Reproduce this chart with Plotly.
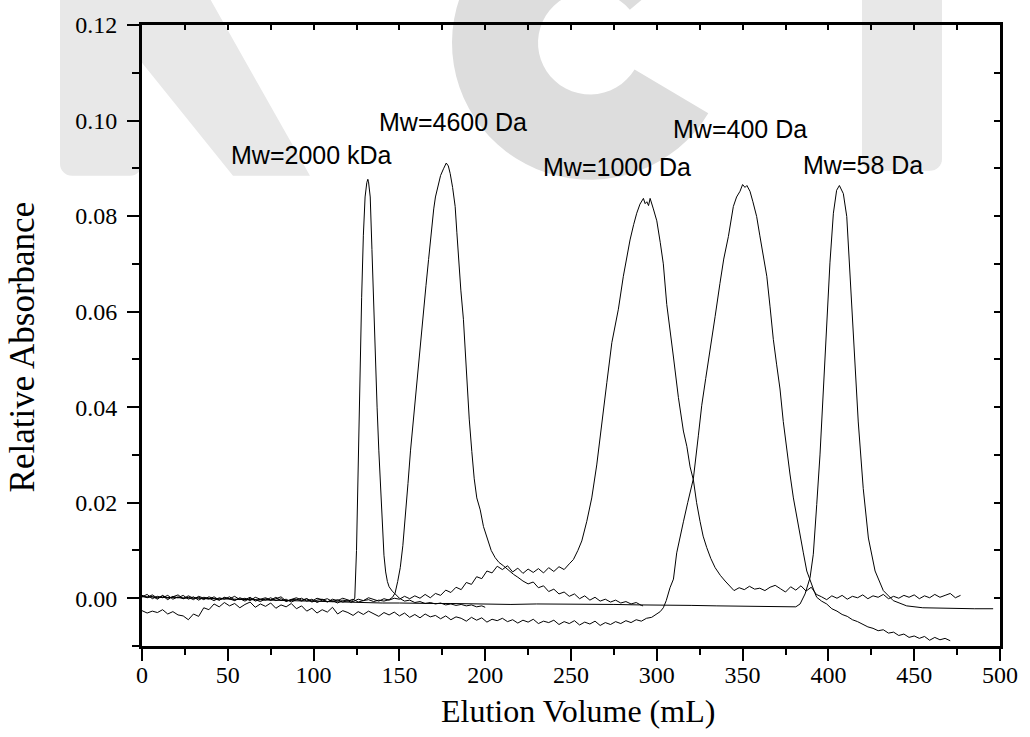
import math
import plotly.graph_objects as go

# ---------------------------------------------------------------------------
# Gel-permeation elution profiles (elution volume in mL, relative absorbance)
# ---------------------------------------------------------------------------

# Mw = 2000 kDa
vol_2000k = [0, 3, 6, 9, 12, 15, 18, 21, 24, 27, 30, 33, 36, 39, 42, 45, 48, 51, 54, 57,
             60, 63, 66, 69, 72, 75, 78, 81, 84, 87, 90, 93, 96, 99, 102, 105, 108, 111, 114, 117, 120,
             122, 123, 124, 125, 126, 127, 128, 129, 130, 131, 131.6, 132, 133, 134, 135, 136, 137, 138,
             139, 140, 141, 142, 143, 144, 145, 146, 147, 148, 150,
             153, 156, 159, 162, 165, 168, 171, 174, 177, 180, 183, 186, 189, 192, 195, 198, 200]
abs_2000k = [0.0006, 0.0002, 0.0007, 0.0000, 0.0005, -0.0003, 0.0004, 0.0001, 0.0006, -0.0002,
             0.0003, -0.0004, 0.0002, 0.0000, -0.0005, 0.0001, -0.0002, 0.0003, -0.0004, -0.0001,
             -0.0006, 0.0000, -0.0003, -0.0007, -0.0001, -0.0004, 0.0002, -0.0005, -0.0002, -0.0008,
             -0.0003, 0.0000, -0.0006, -0.0002, -0.0009, -0.0004, -0.0001, -0.0007, -0.0003, -0.0008, -0.0005,
             -0.0009, -0.0004, 0.0000, 0.0100, 0.0280, 0.0480, 0.0630, 0.0760, 0.0840, 0.0870, 0.0877,
             0.0872, 0.0840, 0.0730, 0.0610, 0.0500, 0.0400, 0.0310, 0.0225, 0.0150, 0.0090, 0.0055,
             0.0035, 0.0024, 0.0018, 0.0014, 0.0011, 0.0008, 0.0000,
             -0.0006, -0.0004, -0.0009, -0.0007, -0.0011, -0.0009, -0.0012, -0.0010, -0.0014, -0.0012,
             -0.0015, -0.0013, -0.0016, -0.0014, -0.0018, -0.0016, -0.0019]

# Mw = 4600 Da
vol_4600 = [0, 3, 6, 9, 12, 15, 18, 21, 24, 27, 30, 33, 36, 39, 42, 45, 48, 51, 54, 57,
            60, 63, 66, 69, 72, 75, 78, 81, 84, 87, 90, 93, 96, 99, 102, 105, 108, 111, 114, 117,
            120, 123, 126, 129, 132, 135, 138, 141, 144,
            146, 147.5, 149, 150.5, 152, 153.5, 155, 156.5, 158, 159.5, 161, 162.5, 164, 165.5, 167,
            168.5, 170, 171, 172.8, 174, 175.7, 177.3, 178.5, 179.6, 181, 182.5, 183.5, 184.4, 185.8,
            187.3, 188.3, 189.3, 190.7, 192.2, 193.6, 195.1, 197.1, 199, 201, 203.5, 205.8, 208,
            210.6, 213, 216.5, 219, 222,
            225, 228, 231, 234, 237, 240, 243, 246, 249, 252, 255, 258, 261, 264, 267, 270, 273,
            276, 279, 282, 285, 288, 291, 292]
abs_4600 = [0.0003, 0.0008, -0.0001, 0.0004, 0.0001, 0.0006, -0.0002, 0.0003, -0.0001, 0.0005,
            0.0000, 0.0002, -0.0003, 0.0003, -0.0001, -0.0004, 0.0002, -0.0002, -0.0005, 0.0001,
            -0.0003, 0.0002, -0.0006, -0.0002, -0.0004, 0.0001, -0.0005, -0.0001, -0.0007, -0.0003,
            -0.0002, -0.0006, -0.0001, -0.0008, -0.0004, -0.0002, -0.0007, -0.0005, -0.0010, -0.0004,
            -0.0006, -0.0002, -0.0008, -0.0005, -0.0003, -0.0007, -0.0004, -0.0006, -0.0003,
            0.0002, 0.0011, 0.0035, 0.0064, 0.0110, 0.0168, 0.0240, 0.0310, 0.0370, 0.0420, 0.0478,
            0.0540, 0.0598, 0.0655, 0.0709, 0.0770, 0.0815, 0.0840, 0.0868, 0.0885, 0.0899, 0.0911,
            0.0905, 0.0889, 0.0860, 0.0820, 0.0765, 0.0709, 0.0645, 0.0584, 0.0515, 0.0445, 0.0375,
            0.0307, 0.0250, 0.0210, 0.0185, 0.0150, 0.0126, 0.0100, 0.0085, 0.0075, 0.0068, 0.0060,
            0.0050, 0.0044, 0.0036,
            0.0030, 0.0034, 0.0022, 0.0026, 0.0014, 0.0019, 0.0009, 0.0013, 0.0004, 0.0009, -0.0001,
            0.0005, -0.0004, 0.0002, -0.0006, -0.0002, -0.0008, -0.0004, -0.0010, -0.0007, -0.0012,
            -0.0009, -0.0015, -0.0016]

# Mw = 1000 Da
vol_1000 = [0, 3, 6, 9, 12, 15, 18, 21, 24, 27, 30, 33, 36, 39, 42, 45, 48, 51, 54, 57,
            60, 63, 66, 69, 72, 75, 78, 81, 84, 87, 90, 93, 96, 99, 102, 105, 108, 111, 114, 117,
            120, 123, 126, 129, 132, 135, 138, 141, 144, 147, 150,
            153, 156, 159, 162, 165, 168, 171, 174, 177, 180, 183, 186, 189, 192, 195, 198, 201,
            204, 207, 210, 213, 216, 219, 222, 225, 228, 231, 234, 237, 240, 243, 246, 249,
            251.4, 254, 256.3, 259.2, 262.1, 265, 268, 270.9, 273.8, 275.5, 277.6, 280.5, 282.5,
            284.4, 286.5, 288.3, 290.2, 292.2, 293.2, 294.2, 295.2, 296.1, 298, 300, 302, 303.8,
            305.8, 307.7, 309.7, 312.6, 315.5, 317.5, 319.4, 321.3, 323.2, 325.2, 327, 329.1,
            331.5, 334, 337, 339.8, 342.7,
            345, 348, 351, 354, 357, 360, 363, 366, 369, 372, 375, 378, 381, 384, 387, 390,
            393, 396, 399, 402, 405, 408, 411, 414, 417, 420, 423, 426, 429, 432, 435, 438, 441,
            444, 447, 450, 453, 456, 459, 462, 465, 468, 471, 474, 477]
abs_1000 = [0.0005, 0.0001, 0.0004, -0.0002, 0.0006, 0.0000, 0.0003, 0.0007, -0.0001, 0.0002,
            -0.0003, 0.0004, 0.0000, -0.0002, 0.0003, -0.0004, 0.0001, -0.0001, 0.0004, -0.0003,
            0.0000, -0.0005, 0.0002, -0.0002, 0.0001, -0.0004, -0.0001, 0.0003, -0.0006, -0.0002,
            0.0001, -0.0004, -0.0001, -0.0006, 0.0000, -0.0003, -0.0008, -0.0002, -0.0005, 0.0000,
            -0.0004, -0.0007, -0.0002, -0.0005, 0.0001, -0.0003, -0.0006, -0.0001, -0.0004, 0.0000,
            -0.0002,
            0.0004, -0.0001, 0.0005, 0.0000, 0.0008, 0.0001, 0.0010, 0.0006, 0.0017, 0.0012, 0.0023,
            0.0018, 0.0033, 0.0029, 0.0045, 0.0041, 0.0057, 0.0053, 0.0067, 0.0060, 0.0068, 0.0055,
            0.0063, 0.0052, 0.0061, 0.0054, 0.0062, 0.0053, 0.0064, 0.0056, 0.0066, 0.0060, 0.0072,
            0.0081, 0.0100, 0.0120, 0.0161, 0.0210, 0.0279, 0.0362, 0.0452, 0.0535, 0.0570, 0.0605,
            0.0674, 0.0715, 0.0750, 0.0782, 0.0806, 0.0825, 0.0837, 0.0826, 0.0830, 0.0822, 0.0837,
            0.0815, 0.0790, 0.0745, 0.0700, 0.0615, 0.0555, 0.0505, 0.0420, 0.0350, 0.0318, 0.0275,
            0.0248, 0.0200, 0.0161, 0.0130, 0.0106, 0.0083, 0.0064, 0.0048, 0.0036, 0.0024,
            0.0016, 0.0022, 0.0018, 0.0025, 0.0019, 0.0021, 0.0016, 0.0023, 0.0027, 0.0020, 0.0013,
            0.0024, 0.0017, 0.0026, 0.0015, 0.0023,
            0.0008, 0.0003, -0.0003, 0.0005, 0.0000, 0.0006, -0.0002, 0.0004, 0.0001, 0.0007,
            -0.0001, 0.0005, 0.0002, 0.0008, -0.0001, 0.0004, 0.0000, 0.0006, 0.0002, 0.0007,
            -0.0001, 0.0005, 0.0001, 0.0008, 0.0002, 0.0006, 0.0010, 0.0001, 0.0006]

# Mw = 400 Da
vol_400 = [0, 3, 6, 9, 12, 15, 18, 21, 24, 27, 30, 33, 36, 39, 42, 45, 48, 51, 54, 57,
           60, 63, 66, 69, 72, 75, 78, 81, 84, 87, 90, 93, 96, 99, 102, 105, 108, 111, 114, 117,
           120, 123, 126, 129, 132, 135, 138, 141, 144, 147, 150, 153, 156, 159, 162, 165, 168,
           171, 174, 177, 180, 183, 186, 189, 192, 195, 198, 201, 204, 207, 210, 213, 216, 219,
           222, 225, 228, 231, 234, 237, 240, 243, 246, 249, 252, 255, 258, 261, 264, 267, 270,
           273, 276, 279, 282, 285, 288, 291, 294, 297, 300,
           302, 303.8, 305.5, 307.7, 309.7, 311.6, 313.5, 315.5, 318, 321.3, 324.2, 326.2, 328.5,
           331, 334, 336.8, 339, 341.7, 344.6, 346.5, 348.5, 350, 351.4, 352.5, 354.3, 356, 358.2,
           360, 362, 364.1, 366, 367.9, 369.8, 371.8, 373.7, 375.7, 377.6, 379.6, 381.5, 383.5,
           385.4, 387.4, 389, 390.3, 392, 393.2, 396, 399,
           402, 405, 408, 411, 414, 417, 420, 423, 426, 429, 432, 435, 438, 441, 444, 447, 450,
           453, 456, 459, 462, 465, 468, 471]
abs_400 = [-0.0026, -0.0031, -0.0027, -0.0030, -0.0024, -0.0033, -0.0028, -0.0035, -0.0037, -0.0045,
           -0.0033, -0.0038, -0.0020, -0.0024, -0.0012, -0.0018, -0.0009, -0.0016, -0.0011, -0.0020,
           -0.0013, -0.0008, -0.0019, -0.0012, -0.0017, -0.0010, -0.0021, -0.0014, -0.0018, -0.0011,
           -0.0022, -0.0016, -0.0027, -0.0021, -0.0031, -0.0024, -0.0029, -0.0019, -0.0033, -0.0026,
           -0.0030, -0.0036, -0.0028, -0.0034, -0.0027, -0.0032, -0.0038, -0.0030, -0.0035, -0.0029,
           -0.0037, -0.0031, -0.0040, -0.0034, -0.0041, -0.0033, -0.0039, -0.0036, -0.0043, -0.0037,
           -0.0045, -0.0039, -0.0042, -0.0048, -0.0040, -0.0046, -0.0041, -0.0050, -0.0044, -0.0047,
           -0.0042, -0.0049, -0.0045, -0.0052, -0.0046, -0.0050, -0.0044, -0.0053, -0.0048, -0.0051,
           -0.0046, -0.0055, -0.0049, -0.0053, -0.0047, -0.0056, -0.0050, -0.0054, -0.0048, -0.0057,
           -0.0051, -0.0055, -0.0049, -0.0053, -0.0047, -0.0051, -0.0045, -0.0048, -0.0042, -0.0040,
           -0.0033,
           -0.0028, -0.0020, -0.0005, 0.0022, 0.0040, 0.0095, 0.0130, 0.0160, 0.0200, 0.0250, 0.0340,
           0.0404, 0.0460, 0.0515, 0.0590, 0.0659, 0.0710, 0.0757, 0.0820, 0.0840, 0.0852, 0.0866,
           0.0860, 0.0864, 0.0852, 0.0830, 0.0799, 0.0760, 0.0720, 0.0674, 0.0610, 0.0542, 0.0490,
           0.0438, 0.0370, 0.0310, 0.0260, 0.0210, 0.0170, 0.0133, 0.0095, 0.0057, 0.0040, 0.0030,
           0.0012, 0.0002, -0.0006, -0.0012,
           -0.0022, -0.0027, -0.0034, -0.0038, -0.0045, -0.0049, -0.0055, -0.0060, -0.0063, -0.0068,
           -0.0066, -0.0073, -0.0071, -0.0078, -0.0075, -0.0082, -0.0079, -0.0084, -0.0080, -0.0088,
           -0.0082, -0.0087, -0.0084, -0.0089]

# Mw = 58 Da
vol_58 = [0, 10, 20, 30, 40, 50, 60, 70, 80, 90, 100, 110, 120, 130, 140, 150, 160, 170, 180, 190,
          200, 215, 230, 245, 260, 275, 290, 305, 320, 335, 350, 365, 378, 381, 383.5, 386.4, 389.3,
          391.2, 393.2, 395.1, 397.1, 399, 400.9, 402.9, 404.8, 406.4, 408.7, 410.7, 412.6, 414.5,
          417.4, 420.3, 423.3, 427.2, 432, 437.8, 445.6, 455, 465, 475, 485, 496]
abs_58 = [0.0003, 0.0002, 0.0001, 0.0000, -0.0001, -0.0002, -0.0003, -0.0004, -0.0005, -0.0006,
          -0.0007, -0.0008, -0.0008, -0.0009, -0.0010, -0.0010, -0.0011, -0.0011, -0.0011, -0.0012,
          -0.0012, -0.0013, -0.0012, -0.0012, -0.0013, -0.0013, -0.0014, -0.0014, -0.0015, -0.0016,
          -0.0017, -0.0018, -0.0019, -0.0018, -0.0012, 0.0009, 0.0043, 0.0092, 0.0196, 0.0300,
          0.0438, 0.0577, 0.0702, 0.0806, 0.0854, 0.0864, 0.0847, 0.0799, 0.0681, 0.0542, 0.0369,
          0.0230, 0.0126, 0.0057, 0.0016, -0.0005, -0.0016, -0.0020, -0.0021, -0.0022, -0.0022, -0.0022]

series = [
    ("Mw=2000 kDa", vol_2000k, abs_2000k),
    ("Mw=4600 Da", vol_4600, abs_4600),
    ("Mw=1000 Da", vol_1000, abs_1000),
    ("Mw=400 Da", vol_400, abs_400),
    ("Mw=58 Da", vol_58, abs_58),
]
for _, xs, ys in series:
    assert len(xs) == len(ys)

x_ticks = [0, 50, 100, 150, 200, 250, 300, 350, 400, 450, 500]
y_ticks = [0.00, 0.02, 0.04, 0.06, 0.08, 0.10, 0.12]

# peak labels: (text, elution volume, absorbance) of each label centre
peak_labels = [
    ("Mw=2000 kDa", 98.9, 0.0928),
    ("Mw=4600 Da", 181.3, 0.0997),
    ("Mw=1000 Da", 276.6, 0.0902),
    ("Mw=400 Da", 348.5, 0.0982),
    ("Mw=58 Da", 419.9, 0.0906),
]

# ---------------------------------------------------------------------------
# Page geometry (pixels)
# ---------------------------------------------------------------------------
W, H = 1030, 737
PL, PR, PT, PB = 142, 1000, 20, 646


def to_paper(px, py):
    return (px - PL) / (PR - PL), (PB - py) / (PB - PT)


def arc(cx, cy, r, a0, a1, n=24):
    pts = []
    for i in range(n + 1):
        a = math.radians(a0 + (a1 - a0) * i / n)
        pts.append((cx + r * math.cos(a), cy + r * math.sin(a)))
    return pts


def svg_path(points):
    pp = [to_paper(x, y) for x, y in points]
    return "M " + " L ".join(f"{x:.5f},{y:.5f}" for x, y in pp) + " Z"


# Background "KCI" mark
k_pts = ([(60, -60), (180, -60), (310, 172), (233, 172), (142, 58), (142, 160)]
         + arc(130, 160, 12, 0, 90, 8) + arc(72, 160, 12, 90, 180, 8))
c_cx, c_cy, c_ro, c_ri = 590, 38, 138, 52
c_pts = arc(c_cx, c_cy, c_ro, 31, 320, 60) + arc(c_cx, c_cy, c_ri, 320, 31, 40)
i_pts = ([(862, -60), (942, -60), (942, 155)] + arc(930, 155, 12, 0, 90, 8)
         + arc(874, 155, 12, 90, 180, 8))

shapes = [
    dict(type="path", xref="paper", yref="paper", path=svg_path(k_pts),
         fillcolor="#e8e8e8", line=dict(width=0), layer="below"),
    dict(type="path", xref="paper", yref="paper", path=svg_path(c_pts),
         fillcolor="#dddddd", line=dict(width=0), layer="below"),
    dict(type="path", xref="paper", yref="paper", path=svg_path(i_pts),
         fillcolor="#e8e8e8", line=dict(width=0), layer="below"),
]

fig = go.Figure()
for name, xs, ys in series:
    fig.add_trace(go.Scatter(x=xs, y=ys, mode="lines", name=name,
                             line=dict(color="black", width=1), showlegend=False))
# carrier for the mirrored top/right axes
fig.add_trace(go.Scatter(x=[None], y=[None], xaxis="x2", yaxis="y2",
                         showlegend=False, hoverinfo="skip"))

serif = "Liberation Serif, Times New Roman, serif"
sans = "Liberation Sans, Arial, sans-serif"

annotations = [
    dict(text=t, x=x, y=y, xref="x", yref="y", showarrow=False,
         xanchor="center", yanchor="middle", font=dict(family=sans, size=25, color="black"))
    for t, x, y in peak_labels
]
annotations.append(dict(text="Elution Volume (mL)", x=to_paper(577.5, 0)[0],
                        y=to_paper(0, 712)[1], xref="paper", yref="paper",
                        showarrow=False, xanchor="center", yanchor="middle",
                        font=dict(family=serif, size=32, color="black")))
annotations.append(dict(text="Relative Absorbance", x=to_paper(22, 0)[0],
                        y=to_paper(0, 344)[1], xref="paper", yref="paper",
                        showarrow=False, xanchor="center", yanchor="middle",
                        textangle=-90, font=dict(family=serif, size=35, color="black")))

axis_common = dict(showgrid=False, zeroline=False, showline=True,
                   linecolor="black", linewidth=3)

fig.update_layout(
    width=W, height=H,
    margin=dict(l=PL, r=W - PR, t=PT, b=H - PB, pad=0),
    paper_bgcolor="white", plot_bgcolor="rgba(0,0,0,0)",
    shapes=shapes, annotations=annotations,
    xaxis=dict(range=[0, 500], tickmode="array", tickvals=x_ticks,
               ticks="outside", ticklen=12, tickwidth=2, tickcolor="black",
               ticklabelstandoff=-7,
               minor=dict(dtick=25, tick0=0, ticks="outside", ticklen=6,
                          tickwidth=2, tickcolor="black"),
               tickfont=dict(family=serif, size=24, color="black"),
               **axis_common),
    yaxis=dict(range=[-0.01, 0.12], tickmode="array", tickvals=y_ticks,
               tickformat=".2f",
               ticks="outside", ticklen=12, tickwidth=2, tickcolor="black",
               ticklabelstandoff=5,
               minor=dict(dtick=0.01, tick0=0, ticks="outside", ticklen=7,
                          tickwidth=2, tickcolor="black"),
               tickfont=dict(family=serif, size=24, color="black"),
               **axis_common),
    xaxis2=dict(range=[0, 500], overlaying="x", side="top", anchor="y",
                dtick=25, tick0=0, ticks="inside", ticklen=5, tickwidth=2,
                tickcolor="black", showticklabels=False, **axis_common),
    yaxis2=dict(range=[-0.01, 0.12], overlaying="y", side="right", anchor="x",
                dtick=0.01, tick0=0, ticks="inside", ticklen=6, tickwidth=2,
                tickcolor="black", showticklabels=False, **axis_common),
)

fig.write_html("out.html")
